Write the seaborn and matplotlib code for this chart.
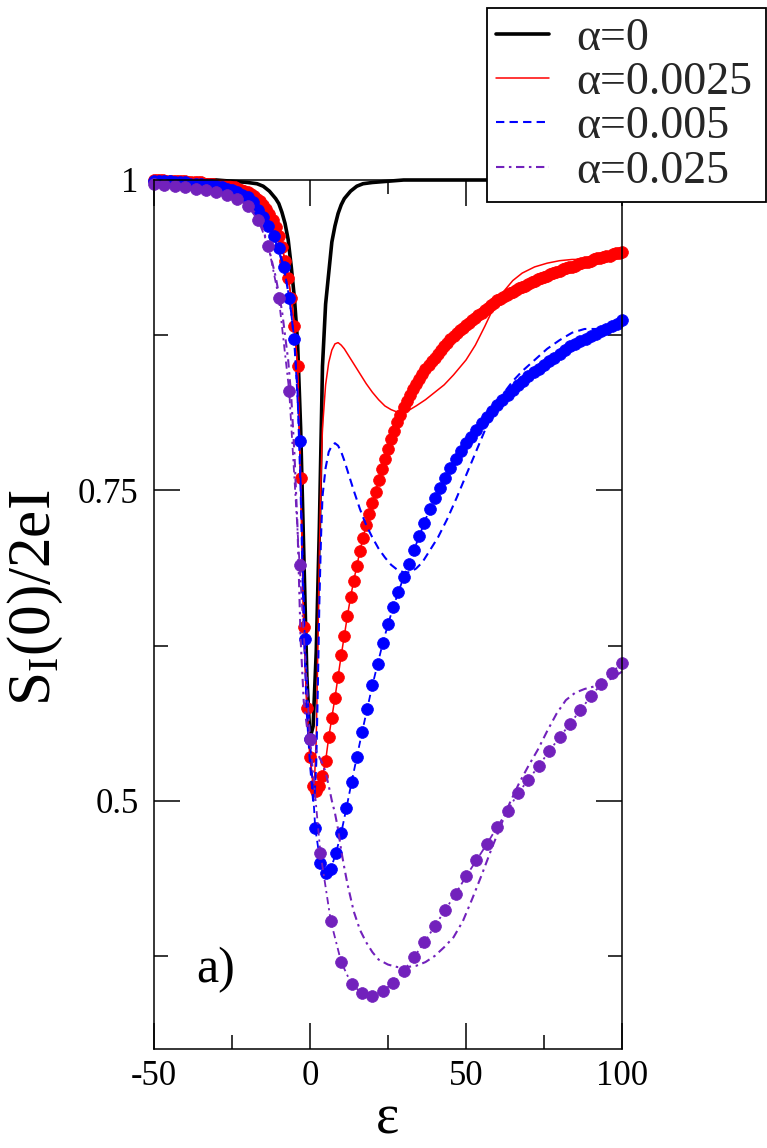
import numpy as np
import matplotlib
matplotlib.use("Agg")
import matplotlib.pyplot as plt
import seaborn as sns

# ---------------- data ----------------
# alpha = 0 (black, thick solid)
eps_black = [-50, -40, -30, -25, -20, -17, -15, -13, -11, -10, -9, -8, -7, -6, -5,
             -4, -3, -2, -1, 0, 1, 2, 3, 4, 5, 6, 7, 8, 9, 10, 11, 13, 15, 17, 20,
             25, 30, 40, 60, 80, 100]
s_black = [1.0, 1.0, 1.0, 0.999, 0.998, 0.997, 0.995, 0.991, 0.985, 0.981, 0.974, 0.965,
           0.952, 0.930, 0.905, 0.870, 0.800, 0.700, 0.600, 0.550, 0.560, 0.620, 0.720,
           0.850, 0.900, 0.925, 0.950, 0.963, 0.973, 0.980, 0.985, 0.991, 0.995, 0.997,
           0.998, 0.999, 1.0, 1.0, 1.0, 1.0, 1.0]

# alpha = 0.0025 (red thin line)
eps_red_line = [-50, -40, -30, -25, -20, -17, -15, -13, -11, -10, -9, -8, -7, -6, -5,
                -4, -3, -2, -1, 0, 1, 1.5, 2, 2.5, 3, 3.5, 4, 5, 6, 7, 8, 9, 10, 11, 12,
                14, 16, 18, 20, 22, 24, 26, 28, 30, 32, 34, 37, 40, 43, 46, 50, 53, 56,
                59, 62, 65, 68, 72, 76, 80, 84, 88, 92, 96, 100]
s_red_line = [1.0, 0.999, 0.997, 0.995, 0.990, 0.985, 0.980, 0.973, 0.962, 0.955,
              0.946, 0.935, 0.921, 0.905, 0.882, 0.850, 0.76, 0.64, 0.575, 0.535,
              0.515, 0.52, 0.55, 0.62, 0.70, 0.76, 0.80, 0.835, 0.853, 0.863,
              0.868, 0.869, 0.867, 0.864, 0.860, 0.852, 0.844, 0.836, 0.829, 0.823,
              0.818, 0.815, 0.813, 0.813, 0.815, 0.818, 0.823, 0.829, 0.835, 0.843,
              0.855, 0.867, 0.882, 0.898, 0.910, 0.919, 0.925, 0.930, 0.933, 0.935,
              0.936, 0.936, 0.937, 0.939, 0.942]

# alpha = 0.005 (blue dashed line)
eps_blue_line = [-50, -40, -30, -25, -20, -17, -15, -13, -11, -10, -9, -8, -7, -6, -5,
                 -4, -3, -2, -1, 0, 1, 1.5, 2, 2.5, 3, 3.5, 4, 5, 6, 7, 8, 9, 10, 11, 12,
                 14, 16, 18, 20, 22, 24, 26, 28, 30, 32, 34, 36, 38, 41, 44, 47, 50, 53,
                 56, 59, 62, 65, 68, 72, 76, 80, 84, 88, 92, 96, 100]
s_blue_line = [0.999, 0.998, 0.995, 0.992, 0.986, 0.979, 0.972, 0.962, 0.950, 0.943,
               0.934, 0.924, 0.910, 0.893, 0.868, 0.83, 0.75, 0.64, 0.57, 0.53,
               0.50, 0.505, 0.53, 0.59, 0.66, 0.71, 0.745, 0.768, 0.781, 0.786,
               0.788, 0.786, 0.781, 0.774, 0.766, 0.750, 0.735, 0.722, 0.712, 0.703,
               0.696, 0.690, 0.686, 0.684, 0.684, 0.687, 0.692, 0.700, 0.712, 0.727,
               0.744, 0.762, 0.780, 0.798, 0.815, 0.828, 0.838, 0.846, 0.855, 0.864,
               0.871, 0.877, 0.880, 0.880, 0.881, 0.886]

# alpha = 0.025 (indigo dash-dot line)
eps_purple_line = [-50, -40, -30, -25, -20, -17, -15, -13, -11, -9, -7, -6, -5, -4, -3,
                   -2, -1, 0, 1, 2, 3, 4, 5, 6, 7, 8, 9, 10, 11, 12, 14, 16, 18, 20, 22,
                   25, 28, 31, 34, 37, 40, 43, 46, 49, 52, 55, 58, 61, 64, 67, 70, 73,
                   76, 79, 82, 85, 88, 91, 94, 97, 100]
s_purple_line = [0.998, 0.996, 0.993, 0.988, 0.980, 0.972, 0.960, 0.943, 0.922, 0.895,
                 0.855, 0.825, 0.78, 0.72, 0.63, 0.58, 0.56, 0.55, 0.545, 0.54,
                 0.535, 0.53, 0.523, 0.512, 0.500, 0.490, 0.477, 0.460, 0.446, 0.433,
                 0.411, 0.396, 0.386, 0.378, 0.372, 0.368, 0.366, 0.366, 0.367, 0.370,
                 0.375, 0.382, 0.390, 0.403, 0.421, 0.440, 0.460, 0.479, 0.498, 0.514,
                 0.528, 0.541, 0.556, 0.570, 0.581, 0.587, 0.590, 0.592, 0.595, 0.599,
                 0.604]

# symbol series (filled circles joined by a line of the same style)
eps_red_pts = list(range(-50, 101))
s_red_pts = [1.000, 1.000, 1.000, 1.000, 0.999, 0.999, 0.999, 0.999, 0.999, 0.999,
             0.999, 0.998, 0.998, 0.998, 0.998,
             0.998, 0.997, 0.997, 0.997, 0.997, 0.996, 0.996, 0.996, 0.995, 0.995,
             0.994, 0.994, 0.993, 0.992, 0.991, 0.990, 0.989, 0.987, 0.985, 0.983,
             0.980, 0.977, 0.973, 0.968, 0.962, 0.955, 0.946, 0.935, 0.921, 0.905,
             0.882, 0.850, 0.760, 0.640, 0.575, 0.535, 0.512, 0.508, 0.512, 0.520,
             0.532, 0.551, 0.567, 0.583, 0.600, 0.617, 0.633, 0.649, 0.664, 0.677,
             0.689, 0.701, 0.712, 0.722, 0.731, 0.740, 0.749, 0.758, 0.767, 0.775,
             0.783, 0.791, 0.798, 0.805, 0.811, 0.817, 0.822, 0.827, 0.832, 0.836,
             0.840, 0.844, 0.848, 0.851, 0.854, 0.857, 0.860, 0.863, 0.866, 0.869,
             0.872, 0.874, 0.877, 0.879, 0.881, 0.883, 0.885, 0.887, 0.889, 0.891,
             0.893, 0.895, 0.897, 0.899, 0.901, 0.903, 0.904, 0.906, 0.907, 0.909,
             0.910, 0.911, 0.913, 0.914, 0.915, 0.916, 0.918, 0.919, 0.920, 0.921,
             0.922, 0.923, 0.924, 0.925, 0.926, 0.927, 0.928, 0.929, 0.930, 0.930,
             0.931, 0.932, 0.933, 0.934, 0.934, 0.935, 0.936, 0.937, 0.937, 0.938,
             0.939, 0.939, 0.940, 0.941, 0.941, 0.942]

eps_blue_pts = [round(-50 + k * 5 / 3, 3) for k in range(91)]
s_blue_pts = [0.999, 0.999, 0.999, 0.999, 0.998, 0.998, 0.998, 0.997, 0.997, 0.997,
              0.996, 0.996, 0.995, 0.994, 0.993, 0.992, 0.990, 0.988, 0.986, 0.982,
              0.976, 0.970, 0.963, 0.955, 0.945, 0.930, 0.905, 0.872, 0.790, 0.630,
              0.550, 0.478, 0.450, 0.442, 0.445, 0.458, 0.474, 0.494, 0.515, 0.535,
              0.555, 0.574, 0.593, 0.610, 0.627, 0.642, 0.656, 0.668, 0.680, 0.691,
              0.702, 0.713, 0.724, 0.735, 0.744, 0.752, 0.760, 0.768, 0.775, 0.782,
              0.788, 0.793, 0.799, 0.804, 0.809, 0.814, 0.819, 0.823, 0.827, 0.831,
              0.835, 0.838, 0.842, 0.845, 0.848, 0.851, 0.854, 0.857, 0.860, 0.863,
              0.866, 0.868, 0.870, 0.872, 0.874, 0.876, 0.878, 0.880, 0.882, 0.884,
              0.887]

eps_purple_pts = [round(-50 + k * 10 / 3, 3) for k in range(46)]
s_purple_pts = [0.997, 0.996, 0.995, 0.994, 0.993, 0.992, 0.990, 0.988, 0.985, 0.979,
                0.968, 0.947, 0.905, 0.830, 0.690, 0.550, 0.458, 0.403, 0.370, 0.352,
                0.345, 0.343, 0.347, 0.353, 0.363, 0.374, 0.386, 0.399, 0.412, 0.425,
                0.439, 0.452, 0.465, 0.479, 0.492, 0.506, 0.517, 0.528, 0.540, 0.551,
                0.562, 0.573, 0.584, 0.594, 0.603, 0.611]

legend_labels = ["α=0", "α=0.0025", "α=0.005", "α=0.025"]
x_major = [-50, 0, 50, 100]
x_minor = [-25, 25, 75]
y_major = [0.5, 0.75, 1.0]
y_major_labels = ["0.5", "0.75", "1"]
y_minor = [0.375, 0.625, 0.875]

# ---------------- style ----------------
sns.set_theme(style="white")
plt.rcParams["font.family"] = ["Liberation Serif", "DejaVu Serif"]
plt.rcParams["mathtext.fontset"] = "custom"
plt.rcParams["mathtext.rm"] = "Liberation Serif"
plt.rcParams["mathtext.it"] = "Liberation Serif:italic"
plt.rcParams["axes.unicode_minus"] = False

RED = "#ff0000"
BLUE = "#0000ff"
PURPLE = "#7221bc"
DASH = (0, (4.0, 2.5))
DASHDOT = (0, (4.0, 2.2, 1.2, 2.2))
MS = 8.5

fig = plt.figure(figsize=(7.67, 11.48), dpi=100)
W, H = 767, 1148
ax = fig.add_axes([154 / W, 1 - 1049 / H, (622 - 154) / W, (1049 - 180) / H])

common = dict(ax=ax, estimator=None, sort=False, clip_on=False)
sns.lineplot(x=eps_black, y=s_black, color="black", linewidth=2.6,
             label=legend_labels[0], **common)
sns.lineplot(x=eps_red_line, y=s_red_line, color=RED, linewidth=1.1,
             label=legend_labels[1], **common)
sns.lineplot(x=eps_red_pts, y=s_red_pts, color=RED, linewidth=1.1, marker="o",
             markersize=MS, markeredgewidth=0.5, markeredgecolor=RED, **common)
sns.lineplot(x=eps_blue_line, y=s_blue_line, color=BLUE, linewidth=1.5,
             linestyle=DASH, label=legend_labels[2], **common)
sns.lineplot(x=eps_blue_pts, y=s_blue_pts, color=BLUE, linewidth=1.3, linestyle=DASH,
             marker="o", markersize=MS, markeredgewidth=0.5, markeredgecolor=BLUE, **common)
sns.lineplot(x=eps_purple_line, y=s_purple_line, color=PURPLE, linewidth=1.5,
             linestyle=DASHDOT, label=legend_labels[3], **common)
sns.lineplot(x=eps_purple_pts, y=s_purple_pts, color=PURPLE, linewidth=1.3,
             linestyle=DASHDOT, marker="o", markersize=MS, markeredgewidth=0.5,
             markeredgecolor=PURPLE, **common)

ax.set_xlim(-50, 100)
ax.set_ylim(0.3, 1.0)
ax.set_xticks(x_major)
ax.set_xticks(x_minor, minor=True)
ax.set_yticks(y_major)
ax.set_yticklabels(y_major_labels)
ax.set_yticks(y_minor, minor=True)
ax.set_xlabel("")
ax.set_ylabel("")

for sp in ax.spines.values():
    sp.set_visible(True)
    sp.set_color("black")
    sp.set_linewidth(1.1)

ax.tick_params(which="both", direction="in", top=True, right=True, bottom=True,
               left=True, width=1.1, color="black", labelcolor="black")
ax.tick_params(which="major", length=19, labelsize=25)
ax.tick_params(axis="x", which="major", pad=8)
ax.tick_params(axis="y", which="major", pad=11)
ax.tick_params(which="minor", length=10)

ax.text(-36.5, 0.364, "a)", fontsize=36, ha="left", va="center", color="black")

fig.text(35 / W, 1 - 598 / H, r"$\mathrm{S_I(0)/2eI}$", rotation=90, fontsize=44,
         ha="center", va="center", color="black")
fig.text(388 / W, 1 - 1134 / H, "ε", fontsize=40, ha="center", va="baseline",
         color="black")

handles, labs = ax.get_legend_handles_labels()
if ax.get_legend() is not None:
    ax.get_legend().remove()
leg = fig.legend(handles, labs, loc="upper left",
                 bbox_to_anchor=(487 / W, 1 - 204 / H, (766 - 487) / W, 196 / H),
                 mode="expand", borderaxespad=0, fontsize=33, handlelength=1.15,
                 handletextpad=0.6, labelspacing=0.04, borderpad=0.2,
                 fancybox=False, framealpha=1, frameon=True)
leg.get_frame().set_edgecolor("black")
leg.get_frame().set_linewidth(1.3)
leg.set_zorder(10)

fig.savefig("out.png", dpi=100)
